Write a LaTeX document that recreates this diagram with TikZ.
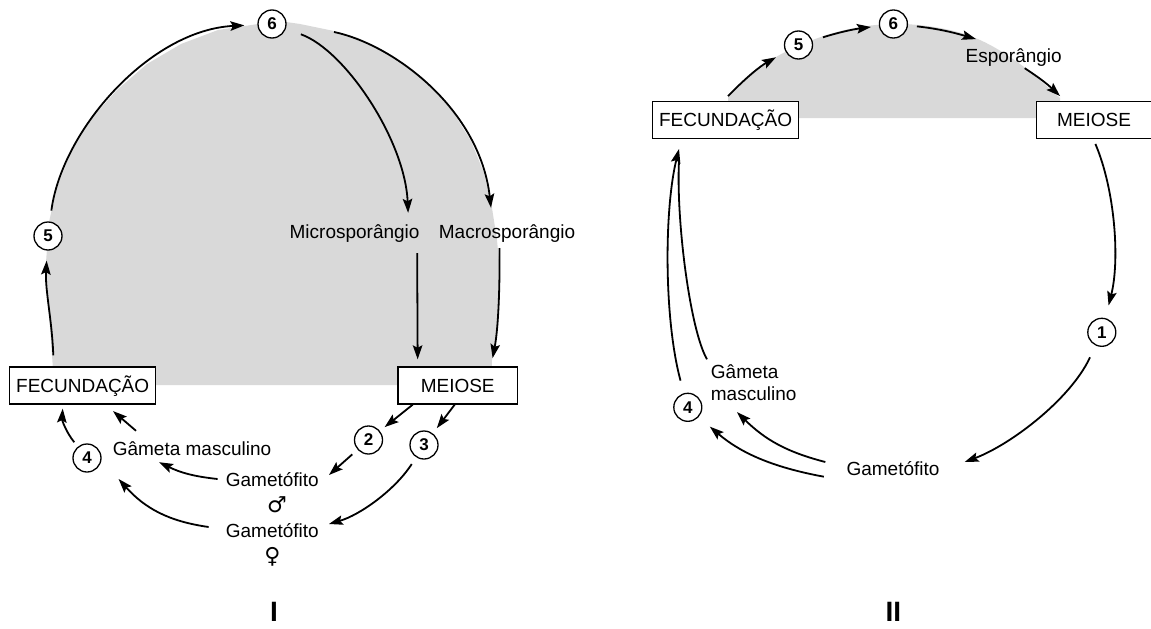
\documentclass[tikz,border=0pt]{standalone}
\usepackage{fontspec}
\setmainfont{Liberation Sans}
\newfontfamily\symfont{DejaVu Sans}
\usetikzlibrary{arrows.meta,calc}
\definecolor{greyfill}{RGB}{217,217,217}
\begin{document}
\begin{tikzpicture}[x=1pt,y=-1pt,
  arr/.style={line width=1.8pt,-{Stealth[length=14pt,width=9.5pt,inset=2.5pt]}},
  ln/.style={line width=1.8pt},
  num/.style={circle,draw,line width=1.3pt,fill=white,minimum size=28pt,inner sep=0pt,font=\fontsize{17}{17}\selectfont\bfseries},
  box/.style={draw,line width=1.3pt,fill=white,minimum height=37pt,inner sep=0pt,text height=13.6pt,text depth=0pt,font=\fontsize{19}{22}\selectfont},
  lbl/.style={inner sep=0pt,text height=14pt,text depth=4pt,font=\fontsize{19}{22}\selectfont},
  lbltwo/.style={inner sep=0pt,align=left,font=\fontsize{19}{22.4}\selectfont},
  sym/.style={inner sep=0pt,font=\symfont\fontsize{22}{22}\selectfont},
  roman/.style={inner sep=0pt,font=\fontsize{28}{28}\selectfont\bfseries}
]
\useasboundingbox (0,0) rectangle (1151,629);

% grey areas
\fill[greyfill] plot coordinates {(54,385) (52,355) (48,300) (46,262) (48,236) (49,222) (57,187) (71,152) (91,119) (117,90) (147,64) (181,44) (218,30) (258,24) (272,20) (300,24) (334,31) (358,38) (383,50) (408,67) (432,87) (453,112) (471,141) (484,173) (492,208) (497,240) (499,262) (500,290) (498,330) (492,360) (491,385)} -- cycle;
\fill[greyfill] (728,118) -- plot[smooth,tension=0.6] coordinates {(728,97) (755,70) (798,46) (845,30) (893,24) (940,28) (980,40) (1020,64) (1060,98)} -- (1060,118) -- cycle;

% ---------- Diagram I ----------
\node[num] (c6) at (272,24) {6};
\node[num] (c5) at (48,236) {5};
\node[box,minimum width=146pt] (fec1) at (82.7,385.5) {FECUNDAÇÃO};
\node[box,minimum width=119.4pt] (mei1) at (457.7,385.5) {MEIOSE};
\node[lbl,anchor=base] (micro) at (354.6,238) {Microsporângio};
\node[lbl,anchor=base] (macro) at (507,238) {Macrosporângio};
\node[num] (c2) at (368.5,440) {2};
\node[num] (c3) at (424,445) {3};
\node[lbl,anchor=base] (gm1) at (272.3,486) {Gametófito};
\node[sym] (male) at (277,505) {♂};
\node[lbl,anchor=base] (gf1) at (272.3,537) {Gametófito};
\node[sym] (female) at (272.5,557) {♀};
\node[lbl,anchor=base] (gam1) at (192,455) {Gâmeta masculino};
\node[num] (c4) at (87,458) {4};
\node[roman] (t1) at (274,612) {I};

\draw[arr,shorten <=11pt,shorten >=10pt] ([xshift=-29pt]fec1.north) .. controls (52,320) and (45,290) .. (c5);
\draw[arr,shorten <=11pt,shorten >=13pt] (c5) .. controls (62,130) and (150,30) .. (c6);
\draw[arr,shorten <=16pt,shorten >=11pt] (c6) .. controls (345,50) and (405,140) .. ([xshift=54pt]micro.north);
\draw[arr,shorten <=11pt,shorten >=7pt] ([xshift=62.5pt]micro.south) -- ([xshift=-40pt]mei1.north);
\draw[arr] ([xshift=62pt,yshift=-8pt]c6.center) .. controls (395,45) and (480,110) .. ([xshift=-16pt,yshift=16pt]macro.north);
\draw[arr,shorten <=6pt,shorten >=8.4pt] ([xshift=-7.6pt]macro.south) .. controls (500,290) and (498,330) .. ([xshift=33.3pt]mei1.north);
\draw[arr,shorten >=6pt] ([xshift=-45pt]mei1.south) -- (c2);
\draw[arr,shorten >=6.5pt] ([xshift=-3pt]mei1.south) -- (c3);
\draw[arr,shorten <=7pt] (c2) -- ([xshift=10pt,yshift=6pt]gm1.east);
\draw[arr,shorten <=8pt] (c3) .. controls (395,490) and (360,515) .. ([xshift=10pt,yshift=8pt]gf1.east);
\draw[arr] ([xshift=-8pt,yshift=2pt]gm1.west) to[bend left=10] ([xshift=-33pt,yshift=-3pt]gam1.south);
\draw[arr] ([xshift=-17pt,yshift=5pt]gf1.west) to[bend left=20] ([xshift=31.6pt,yshift=-21pt]c4.center);
\draw[arr] ([xshift=-56pt,yshift=10pt]gam1.north) -- ([xshift=30.3pt,yshift=-6.4pt]fec1.south);
\draw[arr,shorten <=5.6pt] (c4) .. controls (66,432) and (62,420) .. ([xshift=-20pt,yshift=-4pt]fec1.south);

% ---------- Diagram II ----------
\node[box,minimum width=146pt,minimum height=36.6pt] (fec2) at (725.6,120) {FECUNDAÇÃO};
\node[box,minimum width=114.6pt,minimum height=36.6pt] (mei2) at (1094,120) {MEIOSE};
\node[num] (c5b) at (798.5,45) {5};
\node[num] (c6b) at (893.4,24) {6};
\node[lbl,anchor=base] (esp) at (1013.7,62) {Esporângio};
\node[num] (c1) at (1101.8,332.3) {1};
\node[num] (c4b) at (687.8,407.3) {4};
\node[lbl,anchor=base] (gm2) at (893,475) {Gametófito};
\node[lbltwo,anchor=north west] (gam2) at (710.7,364.3) {Gâmeta\\masculino};
\node[roman] (t2) at (893.4,612) {II};

\draw[arr,shorten >=11pt] ([xshift=2.4pt,yshift=5pt]fec2.north) to[bend left=8] (c5b);
\draw[arr,shorten <=11pt,shorten >=8pt] (c5b) to[bend left=5] (c6b);
\draw[arr,shorten <=9pt] (c6b) to[bend left=5] ([xshift=10.6pt,yshift=8.7pt]esp.north west);
\draw[arr] ([xshift=11pt,yshift=-2pt]esp.south) to[bend left=5] ([xshift=24pt,yshift=5pt]mei2.north west);
\draw[arr,shorten >=13pt] ([xshift=1.4pt,yshift=-5pt]mei2.south) .. controls (1115,190) and (1120,260) .. (c1);
\draw[arr,shorten <=13pt] (c1) .. controls (1070,400) and (1010,445) .. ([xshift=25pt,yshift=8pt]gm2.east);
\draw[arr] ([xshift=-21pt,yshift=8pt]gm2.west) to[bend left=15] ([xshift=26.3pt,yshift=-11pt]gam2.south west);
\draw[arr,shorten >=14.7pt] ([xshift=-22.5pt,yshift=-6.7pt]gm2.west) to[bend left=15] (c4b);
\draw[arr,shorten <=13pt] (c4b) .. controls (664,320) and (664,210) .. ([xshift=-46.6pt,yshift=-10pt]fec2.south);
\draw[ln] ([xshift=-3.7pt,yshift=5pt]gam2.north west) .. controls (690,330) and (676,220) .. ([xshift=-46.6pt,yshift=-22pt]fec2.south);
\end{tikzpicture}
\end{document}
